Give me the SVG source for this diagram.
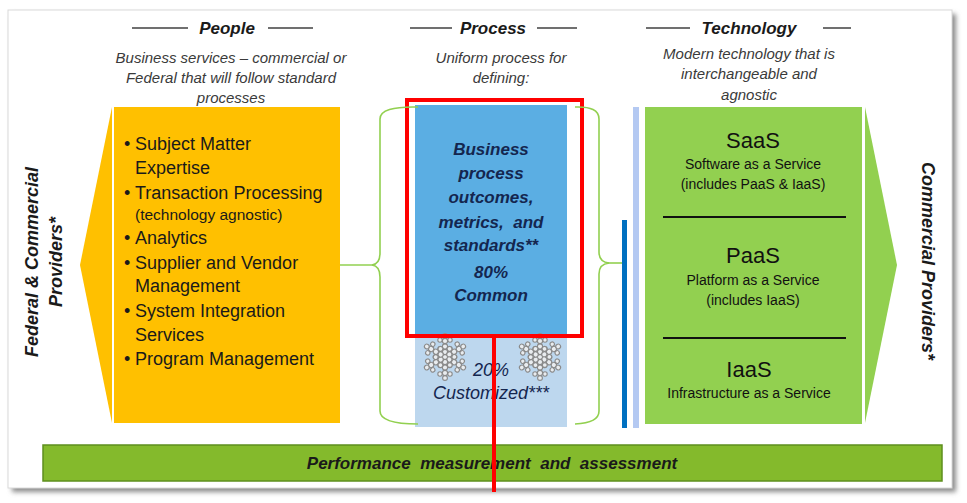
<svg xmlns="http://www.w3.org/2000/svg" xmlns:xlink="http://www.w3.org/1999/xlink" width="967" height="503" viewBox="0 0 967 503">
<style>
  .hdr{font-family:"Liberation Sans",Arial,sans-serif;font-weight:bold;font-style:italic;font-size:17px;fill:#1a1a1a;text-anchor:middle}
  .sub{font-family:"Liberation Sans",Arial,sans-serif;font-style:italic;font-size:15px;fill:#3a3a3a;text-anchor:middle}
  .rule{stroke:#404040;stroke-width:1.5}
  .bul{font-family:"Liberation Sans",Arial,sans-serif;font-size:18px;fill:#1a1a1a}
  .bsm{font-family:"Liberation Sans",Arial,sans-serif;font-size:15.5px;fill:#1a1a1a}
  .proc{font-family:"Liberation Sans",Arial,sans-serif;font-weight:bold;font-style:italic;font-size:17px;fill:#14264f;text-anchor:middle}
  .cust{font-family:"Liberation Sans",Arial,sans-serif;font-style:italic;font-size:18px;fill:#14264f;text-anchor:middle}
  .big{font-family:"Liberation Sans",Arial,sans-serif;font-size:22px;fill:#111;text-anchor:middle}
  .sm{font-family:"Liberation Sans",Arial,sans-serif;font-size:14px;fill:#111;text-anchor:middle}
  .side{font-family:"Liberation Sans",Arial,sans-serif;font-weight:bold;font-style:italic;font-size:18px;fill:#1a1a1a;text-anchor:middle}
  .brace{fill:none;stroke:#92D050;stroke-width:1.6}
  .sep{stroke:#111;stroke-width:2}
</style>
<defs>
  <filter id="shadow" x="-5%" y="-5%" width="110%" height="110%">
    <feGaussianBlur stdDeviation="2.5"/>
  </filter>
  <g id="arm">
    <circle cx="0" cy="-5" r="2.6"/>
    <circle cx="0" cy="-10.5" r="2.6"/>
    <circle cx="0" cy="-16" r="2.6"/>
    <circle cx="0" cy="-21" r="2.4"/>
    <circle cx="-4.8" cy="-8" r="2.4"/>
    <circle cx="4.8" cy="-8" r="2.4"/>
    <circle cx="-5" cy="-17" r="2.2"/>
    <circle cx="5" cy="-17" r="2.2"/>
  </g>
  <g id="flake" fill="#e9ecef" stroke="#8a8a8a" stroke-width="1.1">
    <circle cx="0" cy="0" r="2.6"/>
    <use xlink:href="#arm"/>
    <use xlink:href="#arm" transform="rotate(60)"/>
    <use xlink:href="#arm" transform="rotate(120)"/>
    <use xlink:href="#arm" transform="rotate(180)"/>
    <use xlink:href="#arm" transform="rotate(240)"/>
    <use xlink:href="#arm" transform="rotate(300)"/>
  </g>
</defs>

<g id="frame">
  <rect x="12" y="14" width="944" height="478" fill="#8c8c8c" filter="url(#shadow)"/>
  <rect x="8" y="10" width="944" height="478" fill="#ffffff" stroke="#d9d9d9" stroke-width="1"/>
</g>

<g id="headers">
  <g id="people-header">
    <line class="rule" x1="132" y1="28" x2="188" y2="28"/>
    <text class="hdr" x="227" y="34">People</text>
    <line class="rule" x1="268" y1="28" x2="313" y2="28"/>
    <text class="sub" x="231" y="63">Business services – commercial or</text>
    <text class="sub" x="231" y="83">Federal that will follow standard</text>
    <text class="sub" x="231" y="103">processes</text>
  </g>
  <g id="process-header">
    <line class="rule" x1="410" y1="28" x2="452" y2="28"/>
    <text class="hdr" x="493" y="34">Process</text>
    <line class="rule" x1="537" y1="28" x2="577" y2="28"/>
    <text class="sub" x="501" y="63">Uniform process for</text>
    <text class="sub" x="501" y="83">defining:</text>
  </g>
  <g id="technology-header">
    <line class="rule" x1="646" y1="28" x2="690" y2="28"/>
    <text class="hdr" x="749" y="34">Technology</text>
    <line class="rule" x1="823" y1="28" x2="851" y2="28"/>
    <text class="sub" x="749" y="59">Modern technology that is</text>
    <text class="sub" x="749" y="79">interchangeable and</text>
    <text class="sub" x="749" y="100">agnostic</text>
  </g>
</g>

<g id="federal-providers">
  <polygon points="112,107 80,265 112,423" fill="#FFC000"/>
  <text class="side" transform="translate(38,262) rotate(-90)">Federal &amp; Commercial</text>
  <text class="side" transform="translate(62,262) rotate(-90)">Providers*</text>
</g>

<g id="people-panel">
  <rect x="114" y="107" width="226" height="316" fill="#FFC000"/>
  <text class="bul" x="124" y="150">•</text><text class="bul" x="135" y="150">Subject Matter</text>
  <text class="bul" x="135" y="174">Expertise</text>
  <text class="bul" x="124" y="199">•</text><text class="bul" x="135" y="199">Transaction Processing</text>
  <text class="bsm" x="135" y="220">(technology agnostic)</text>
  <text class="bul" x="124" y="244">•</text><text class="bul" x="135" y="244">Analytics</text>
  <text class="bul" x="124" y="269">•</text><text class="bul" x="135" y="269">Supplier and Vendor</text>
  <text class="bul" x="135" y="292">Management</text>
  <text class="bul" x="124" y="317">•</text><text class="bul" x="135" y="317">System Integration</text>
  <text class="bul" x="135" y="341">Services</text>
  <text class="bul" x="124" y="365">•</text><text class="bul" x="135" y="365">Program Management</text>
</g>

<g id="process-panel">
  <rect x="415" y="105" width="152" height="230" fill="#5BAEE3"/>
  <rect x="415" y="335" width="152" height="92" fill="#BDD7EE"/>
  <text class="proc" x="491" y="155">Business</text>
  <text class="proc" x="491" y="179">process</text>
  <text class="proc" x="491" y="203">outcomes,</text>
  <text class="proc" x="491" y="228" xml:space="preserve">metrics,  and</text>
  <text class="proc" x="491" y="251">standards**</text>
  <text class="proc" x="491" y="278">80%</text>
  <text class="proc" x="491" y="301">Common</text>
  <use xlink:href="#flake" x="445" y="357"/>
  <use xlink:href="#flake" x="540" y="357"/>
  <text class="cust" x="491" y="376">20%</text>
  <text class="cust" x="491" y="399">Customized***</text>
</g>

<g id="highlight">
  <rect x="407" y="100" width="175" height="236" fill="none" stroke="#FF0000" stroke-width="4"/>
</g>

<g id="bars">
  <rect x="622" y="220" width="5" height="208" fill="#0070C0"/>
  <rect x="633" y="107" width="6" height="321" fill="#B4C9F2"/>
</g>

<g id="technology-panel">
  <rect x="645" y="107" width="217" height="317" fill="#92D050"/>
  <text class="big" x="753" y="148">SaaS</text>
  <text class="sm" x="753" y="169">Software as a Service</text>
  <text class="sm" x="753" y="189">(includes PaaS &amp; IaaS)</text>
  <line class="sep" x1="663" y1="217" x2="846" y2="217"/>
  <text class="big" x="753" y="263">PaaS</text>
  <text class="sm" x="753" y="285">Platform as a Service</text>
  <text class="sm" x="753" y="305">(includes IaaS)</text>
  <line class="sep" x1="663" y1="338" x2="846" y2="338"/>
  <text class="big" x="749" y="377">IaaS</text>
  <text class="sm" x="749" y="398">Infrastructure as a Service</text>
</g>

<g id="commercial-providers">
  <polygon points="865,107 897,265 865,423" fill="#92D050"/>
  <text class="side" transform="translate(922,261) rotate(90)">Commercial Providers*</text>
</g>

<g id="performance-bar">
  <rect x="43" y="445" width="899" height="36" fill="#84BA2C" stroke="#5E8F1E" stroke-width="1.5"/>
  <text class="hdr" x="492" y="469" xml:space="preserve">Performance  measurement  and  assessment</text>
</g>

<g id="connectors">
  <path class="brace" d="M418,107 Q380,106 380,119 L380,253 Q380,264 372,265 Q380,266 380,277 L380,411 Q380,424 418,424"/>
  <line class="brace" x1="340" y1="265" x2="373" y2="265"/>
  <path class="brace" d="M575,107 Q599,106 599,119 L599,252 Q599,262 609,263 Q599,264 599,274 L599,411 Q599,423 575,424"/>
  <line class="brace" x1="608" y1="263" x2="622" y2="263"/>
  <line x1="494" y1="336" x2="494" y2="492" stroke="#FF0000" stroke-width="4"/>
</g>
</svg>
